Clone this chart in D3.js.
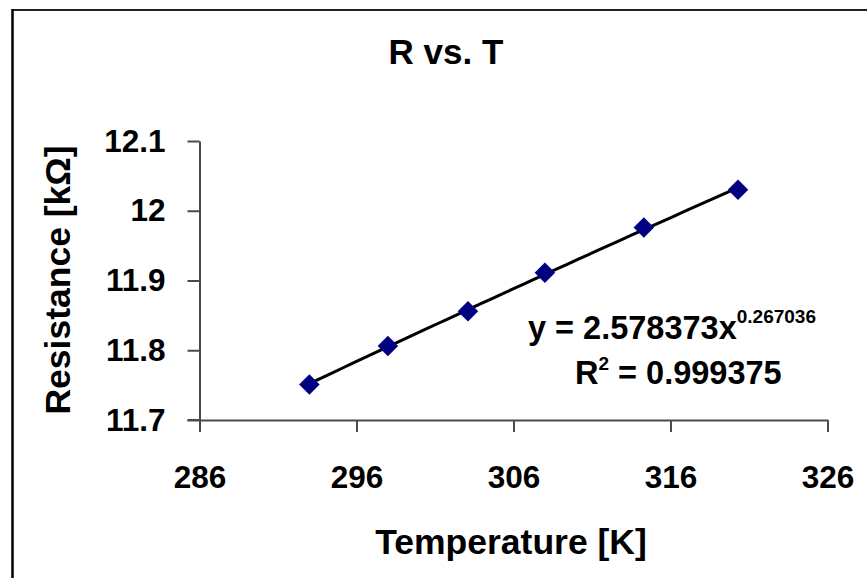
<!DOCTYPE html>
<html>
<head>
<meta charset="utf-8">
<script src="https://cdn.jsdelivr.net/npm/d3@7"></script>
<style>
html,body{margin:0;padding:0;background:#fff;}
svg{display:block;}
text{font-family:"Liberation Sans",Arial,sans-serif;font-weight:bold;fill:#000;}
</style>
</head>
<body>
<script>
const temperatures = [293.0, 298.0, 303.1, 308.0, 314.3, 320.3];
const resistances = [11.751, 11.806, 11.856, 11.911, 11.976, 12.030];
const xTicks = [286, 296, 306, 316, 326];
const yTicks = [11.7, 11.8, 11.9, 12.0, 12.1];
const titleText = "R vs. T";
const xLabel = "Temperature [K]";
const yLabel = "Resistance [kΩ]";
const eqMain = "y = 2.578373x";
const eqExp = "0.267036";
const r2Value = "= 0.999375";

const W = 867, H = 578;
const svg = d3.select("body").append("svg").attr("width", W).attr("height", H);

// frame
svg.append("line").attr("x1", 12.5).attr("x2", W).attr("y1", 10).attr("y2", 10)
  .attr("stroke", "#222").attr("stroke-width", 2);
svg.append("line").attr("x1", 12.5).attr("x2", 12.5).attr("y1", 9).attr("y2", H)
  .attr("stroke", "#000").attr("stroke-width", 2.5);

const x = d3.scaleLinear().domain([286, 326]).range([199.5, 827.5]);
const y = d3.scaleLinear().domain([11.7, 12.1]).range([420, 141]);

const axisColor = "#4a4a4a";
const fmtY = d => (Math.round(d * 10) / 10).toString();

const gx = svg.append("g").attr("transform", `translate(0,${y(11.7)})`)
  .call(d3.axisBottom(x).tickValues(xTicks).tickSizeInner(12).tickSizeOuter(0).tickPadding(34).tickFormat(d3.format("d")));
const gy = svg.append("g").attr("transform", `translate(${x(286)},0)`)
  .call(d3.axisLeft(y).tickValues(yTicks).tickSizeInner(12).tickSizeOuter(0).tickPadding(22).tickFormat(fmtY));

[gx, gy].forEach(g => {
  g.select(".domain").attr("stroke", axisColor).attr("stroke-width", 2);
  g.selectAll(".tick line").attr("stroke", axisColor).attr("stroke-width", 2);
  g.selectAll(".tick text").attr("font-size", 31.5).attr("font-family", "Liberation Sans, Arial, sans-serif")
    .attr("font-weight", "bold").attr("fill", "#000");
});
// extend x axis line to the left to meet the 11.7 tick
gx.append("line").attr("x1", x(286) - 12).attr("x2", x(286)).attr("y1", 0).attr("y2", 0)
  .attr("stroke", axisColor).attr("stroke-width", 2);

// power trendline fitted from the data (log-log least squares)
const lx = temperatures.map(Math.log), ly = resistances.map(Math.log);
const mx = d3.mean(lx), my = d3.mean(ly);
const b = d3.sum(lx.map((v, i) => (v - mx) * (ly[i] - my))) / d3.sum(lx.map(v => (v - mx) ** 2));
const a = Math.exp(my - b * mx);
const t0 = d3.min(temperatures), t1 = d3.max(temperatures);
const fitPts = d3.range(0, 41).map(i => {
  const t = t0 + (t1 - t0) * i / 40;
  return [t, a * Math.pow(t, b)];
});
svg.append("path").datum(fitPts)
  .attr("d", d3.line().x(d => x(d[0])).y(d => y(d[1])))
  .attr("fill", "none").attr("stroke", "#000").attr("stroke-width", 3);

// markers
const diamond = d3.symbol().type(d3.symbolSquare).size(210);
svg.append("g").selectAll("path").data(temperatures.map((t, i) => [t, resistances[i]]))
  .join("path")
  .attr("d", diamond)
  .attr("transform", d => `translate(${x(d[0])},${y(d[1])}) rotate(45)`)
  .attr("fill", "#000080");

// title
svg.append("text").attr("x", 446).attr("y", 64).attr("text-anchor", "middle")
  .attr("font-size", 35).text(titleText);

// axis titles
svg.append("text").attr("x", 511).attr("y", 554).attr("text-anchor", "middle")
  .attr("font-size", 35.5).text(xLabel);
svg.append("text").attr("transform", "translate(70,280) rotate(-90)").attr("text-anchor", "middle")
  .attr("font-size", 35.5).text(yLabel);

// equation
const eq = svg.append("text").attr("x", 528).attr("y", 339).attr("font-size", 32.5);
eq.append("tspan").text(eqMain);
eq.append("tspan").attr("font-size", 19).attr("dy", -16).text(eqExp);

const r2 = svg.append("text").attr("x", 575).attr("y", 384).attr("font-size", 32.5);
r2.append("tspan").text("R");
r2.append("tspan").attr("font-size", 19).attr("dy", -14).text("2");
r2.append("tspan").attr("dy", 14).text(" " + r2Value);
</script>
</body>
</html>
